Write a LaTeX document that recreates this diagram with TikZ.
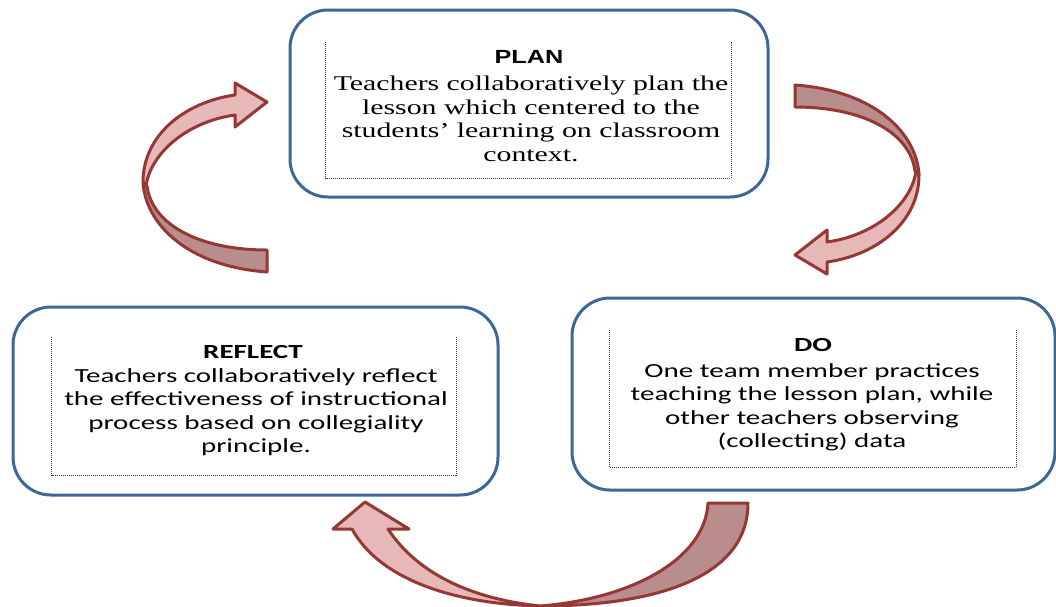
\documentclass[tikz,border=0pt]{standalone}
\usepackage{fontspec}
\setmainfont{Carlito}
\newfontfamily\timesfont[FakeStretch=1.42]{Liberation Serif}
\newfontfamily\arialfont[FakeStretch=1.33]{Liberation Sans}
\newfontfamily\calibrifont[FakeStretch=1.45]{Carlito}
\definecolor{boxblue}{HTML}{3C6796}
\definecolor{arrowred}{HTML}{953735}
\definecolor{arrowlight}{HTML}{E6B9B8}
\definecolor{arrowdark}{HTML}{B98D8C}

\begin{document}
\begin{tikzpicture}[x=1pt,y=-1pt,
      outerbox/.style={draw=boxblue,line width=3pt,rounded corners=38pt,inner sep=0pt},
      dotbox/.style={inner sep=0pt},
      dotline/.style={draw=black!75,line width=0.8pt,dash pattern=on 1pt off 1pt},
      titletext/.style={anchor=base,inner sep=0pt,font=\calibrifont\bfseries\fontsize{20}{23.5}\selectfont},
      bodytext/.style={anchor=base,inner sep=0pt,align=center,font=\calibrifont\fontsize{20}{23.5}\selectfont},
      front/.style={fill=arrowlight,draw=arrowred,line width=3pt,line join=round},
      back/.style={fill=arrowdark,draw=arrowred,line width=3pt,line join=round}]
    \useasboundingbox (0,0) rectangle (1056,606);

    \node[outerbox,minimum width=478pt,minimum height=187pt] (plan) at (529,103.5) {};
    \node[outerbox,minimum width=485pt,minimum height=188pt] (reflect) at (255.5,401) {};
    \node[outerbox,minimum width=483pt,minimum height=192pt] (do) at (813.5,394) {};

    \node[dotbox,minimum width=405pt,minimum height=136pt] (planin) at (528.5,110) {};
    \node[dotbox,minimum width=404pt,minimum height=138pt] (reflectin) at (254,406) {};
    \node[dotbox,minimum width=406pt,minimum height=137pt] (doin) at (813,398.5) {};
    \foreach \b in {planin,reflectin,doin}
      \draw[dotline] (\b.north west) -- (\b.south west) -- (\b.south east) -- (\b.north east);

    % base of a multi-line node is its last line
    \node[titletext,font=\arialfont\bfseries\fontsize{19}{23.5}\selectfont] (plantitle) at (529,63) {PLAN};
    \node[bodytext,font=\timesfont\fontsize{21}{23.5}\selectfont] (plantext) at (531,161)
      {Teachers collaboratively plan the\\ lesson which centered to the\\
       students’ learning on classroom\\ context.};
    \node[titletext] (reflecttitle) at (253,358) {REFLECT};
    \node[bodytext] (reflecttext) at (256,452.5)
      {Teachers collaboratively reflect\\ the effectiveness of instructional\\
       process based on collegiality\\ principle.};
    \node[titletext] (dotitle) at (813,351.5) {DO};
    \node[bodytext] (dotext) at (812,447.5)
      {One team member practices\\ teaching the lesson plan, while\\
       other teachers observing\\ (collecting) data};

    \foreach \r in {0,180}{
      \begin{scope}[rotate around={\r:(531,178.5)}]
        \draw[back] (143,182) .. controls (145,222) and (185,266) .. (267,272) -- (267,250)
          .. controls (200,250) and (152,225) .. (147,186) -- cycle;
        \draw[front] (146,186) .. controls (150,155) and (185,122) .. (235,115) -- (235,127)
          -- (267,102) -- (235,83) -- (235,95) .. controls (185,102) and (143,135) .. (143,182) -- cycle;
      \end{scope}
    }

    \draw[back] (708,503) -- (748,503) .. controls (748,580) and (650,606) .. (540,606)
      .. controls (630,599) and (705,560) .. (708,503) -- cycle;
    \draw[front] (540,606) .. controls (455,604) and (380,580) .. (352,529) -- (333,529)
      -- (365,502) -- (409,529) -- (388,529) .. controls (415,570) and (465,598) .. (540,606) -- cycle;
  \end{tikzpicture}
\end{document}
